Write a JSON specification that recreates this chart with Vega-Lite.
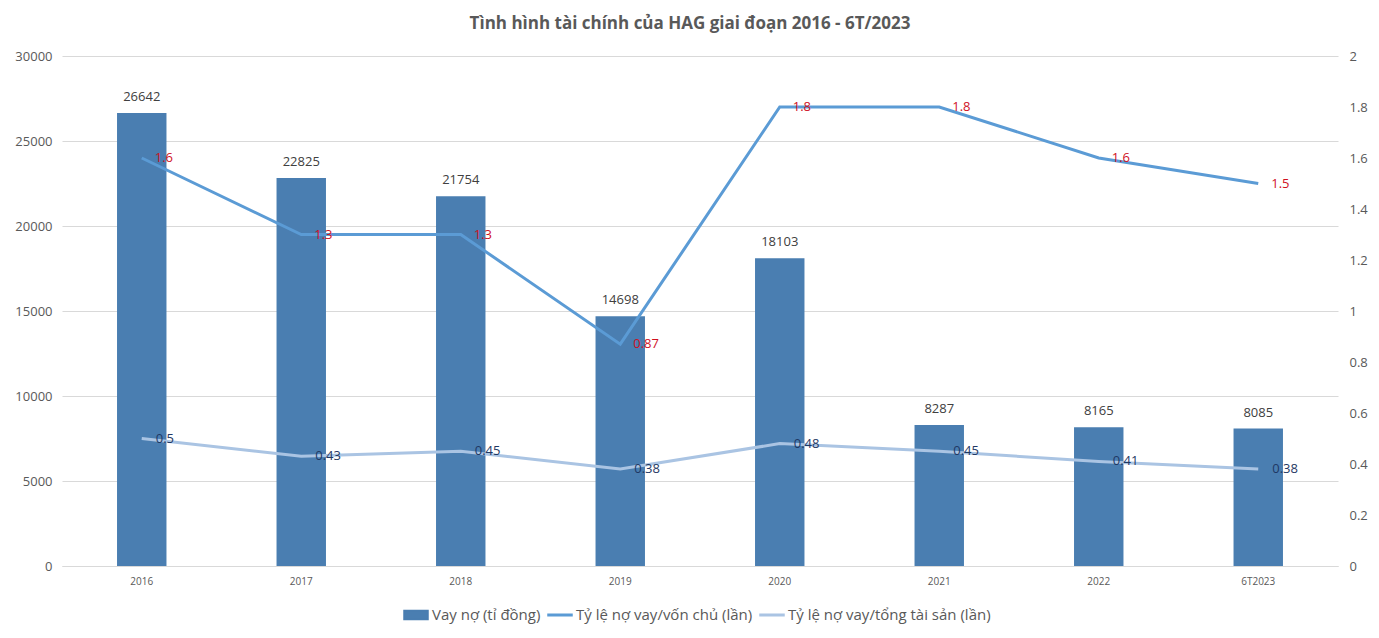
{
  "$schema": "https://vega.github.io/schema/vega-lite/v6.json",
  "width": 1276,
  "height": 510,
  "autosize": {"type": "none"},
  "padding": {"left": 62, "top": 56, "right": 41, "bottom": 72},
  "background": "white",
  "config": {
    "view": {"stroke": null},
    "font": "Open Sans",
    "axis": {"labelFont": "Open Sans", "labelColor": "#595959"}
  },
  "title": {
    "text": "Tình hình tài chính của HAG giai đoạn 2016 - 6T/2023",
    "font": "Open Sans",
    "fontSize": 17,
    "fontWeight": "bold",
    "color": "#595959",
    "anchor": "middle",
    "offset": 17,
    "dx": -10
  },
  "data": {
    "values": [
      {"year": "2016", "vay": 26642, "r1": 1.6, "r2": 0.5},
      {"year": "2017", "vay": 22825, "r1": 1.3, "r2": 0.43},
      {"year": "2018", "vay": 21754, "r1": 1.3, "r2": 0.45},
      {"year": "2019", "vay": 14698, "r1": 0.87, "r2": 0.38},
      {"year": "2020", "vay": 18103, "r1": 1.8, "r2": 0.48},
      {"year": "2021", "vay": 8287, "r1": 1.8, "r2": 0.45},
      {"year": "2022", "vay": 8165, "r1": 1.6, "r2": 0.41},
      {"year": "6T2023", "vay": 8085, "r1": 1.5, "r2": 0.38}
    ]
  },
  "encoding": {
    "x": {
      "field": "year",
      "type": "ordinal",
      "sort": null,
      "title": null,
      "scale": {"paddingInner": 0.69, "paddingOuter": 0.345},
      "axis": {
        "labelAngle": 0,
        "labelFontSize": 10,
        "labelPadding": 10,
        "ticks": false,
        "domain": true,
        "domainColor": "#d9d9d9",
        "grid": false
      }
    }
  },
  "layer": [
    {
      "layer": [
        {
          "mark": {"type": "bar", "color": "#4a7eb1"},
          "encoding": {
            "y": {
              "field": "vay",
              "type": "quantitative",
              "title": null,
              "scale": {"domain": [0, 30000]},
              "axis": {
                "values": [0, 5000, 10000, 15000, 20000, 25000, 30000],
                "labelFontSize": 13,
                "labelPadding": 10,
                "ticks": false,
                "domain": false,
                "grid": true,
                "gridColor": "#d9d9d9",
                "format": "d"
              }
            },
            "color": {
              "datum": "Vay nợ (tỉ đồng)",
              "scale": {
                "domain": ["Vay nợ (tỉ đồng)", "Tỷ lệ nợ vay/vốn chủ (lần)", "Tỷ lệ nợ vay/tổng tài sản (lần)"],
                "range": ["#4a7eb1", "#5b9bd5", "#aac4e3"]
              },
              "legend": {
                "title": null,
                "orient": "none",
                "legendX": 341,
                "legendY": 546,
                "direction": "horizontal",
                "labelFont": "Open Sans",
                "labelFontSize": 15,
                "labelColor": "#595959",
                "labelLimit": 0,
                "symbolSize": 576,
                "columnPadding": 4,
                "labelOffset": 3,
                "encode": {
                  "symbols": {
                    "update": {
                      "shape": {"signal": "datum.value === 'Vay nợ (tỉ đồng)' ? 'M-1,-0.37H1V0.37H-1Z' : 'M-1,-0.07H1V0.07H-1Z'"},
                      "fill": {"scale": "color", "field": "value"},
                      "stroke": {"value": "transparent"},
                      "fillOpacity": {"value": 1}
                    }
                  }
                }
              }
            }
          }
        },
        {
          "mark": {"type": "text", "baseline": "bottom", "dy": -9, "fontSize": 13, "color": "#404040", "font": "Open Sans"},
          "encoding": {
            "y": {"field": "vay", "type": "quantitative"},
            "text": {"field": "vay", "type": "quantitative", "format": "d"}
          }
        }
      ]
    },
    {
      "layer": [
        {
          "mark": {"type": "line", "strokeWidth": 3},
          "encoding": {
            "y": {
              "field": "r1",
              "type": "quantitative",
              "title": null,
              "scale": {"domain": [0, 2]},
              "axis": {
                "orient": "right",
                "values": [0, 0.2, 0.4, 0.6, 0.8, 1, 1.2, 1.4, 1.6, 1.8, 2],
                "format": "~g",
                "labelFontSize": 13,
                "labelPadding": 11,
                "ticks": false,
                "domain": false,
                "grid": false
              }
            },
            "color": {"datum": "Tỷ lệ nợ vay/vốn chủ (lần)"}
          }
        },
        {
          "mark": {"type": "line", "strokeWidth": 3},
          "encoding": {
            "y": {"field": "r2", "type": "quantitative"},
            "color": {"datum": "Tỷ lệ nợ vay/tổng tài sản (lần)"}
          }
        },
        {
          "mark": {"type": "text", "align": "left", "baseline": "middle", "dx": 13, "fontSize": 13, "color": "#d0101e", "font": "Open Sans"},
          "encoding": {
            "y": {"field": "r1", "type": "quantitative"},
            "text": {"field": "r1", "type": "quantitative", "format": "~g"}
          }
        },
        {
          "mark": {"type": "text", "align": "left", "baseline": "middle", "dx": 14, "fontSize": 13, "color": "#1f3864", "font": "Open Sans"},
          "encoding": {
            "y": {"field": "r2", "type": "quantitative"},
            "text": {"field": "r2", "type": "quantitative", "format": "~g"}
          }
        }
      ]
    }
  ],
  "resolve": {"scale": {"y": "independent"}}
}
